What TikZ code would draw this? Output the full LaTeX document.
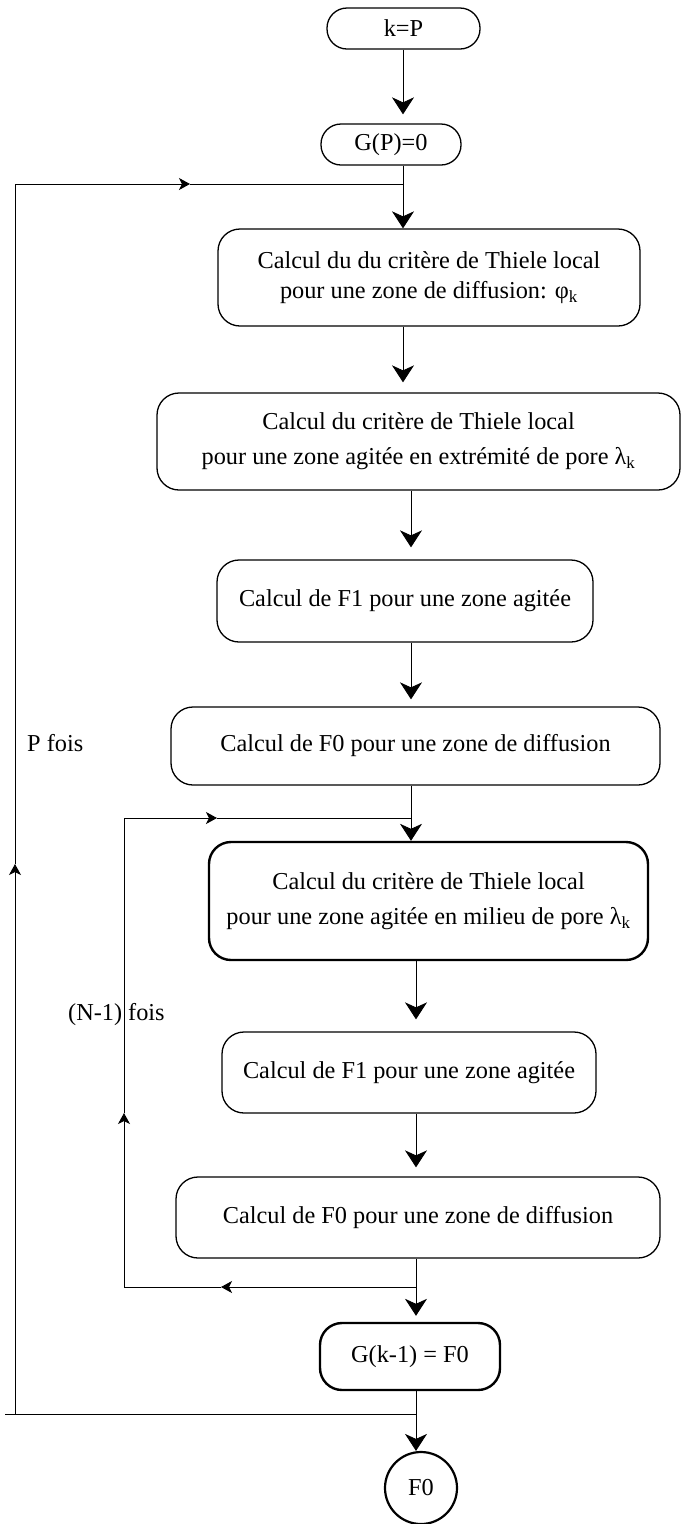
\documentclass[tikz,border=0pt]{standalone}
\usepackage{fontspec}
\setmainfont{Liberation Serif}
\usetikzlibrary{arrows.meta}
\begin{document}
\begin{tikzpicture}[x=1pt,y=-1pt,
  txt/.style={font=\fontsize{24.3}{30}\selectfont},
  txtw/.style={font=\fontsize{24.3}{35}\selectfont},
  box/.style={draw, line width=1.3pt, rounded corners=22pt, inner sep=0pt, align=center},
  boldbox/.style={box, line width=2.4pt},
  link/.style={line width=0.9pt, -{Stealth[length=17pt,width=22pt,inset=5pt]}},
  plain/.style={line width=0.9pt},
  mid/.style={line width=0.9pt, -{Stealth[length=11pt,width=12pt,inset=3pt]}}
]
\useasboundingbox (0,0) rectangle (682,1524);

% axis coordinates
\coordinate (a1) at (403,0);
\coordinate (a2) at (411,0);
\coordinate (a3) at (416,0);

% nodes
\node[box, txt, minimum width=153pt, minimum height=41pt, rounded corners=20pt] (kp) at (403.5,28.5) {k=P};
\node[box, txt, minimum width=140pt, minimum height=41pt, rounded corners=20pt] (gp) at (391,144.5) {G(P)=0};
\node[box, txt, minimum width=422pt, minimum height=97pt] (b1) at (429,277.5)
  {Calcul du du critère de Thiele local\\pour une zone de diffusion: φ\textsubscript{k}};
\node[box, txtw, minimum width=523pt, minimum height=97pt] (b2) at (418.5,441.5)
  {Calcul du critère de Thiele local\\pour une zone agitée en extrémité de pore λ\textsubscript{k}};
\node[box, txt, minimum width=376pt, minimum height=82pt] (b3) at (405,601)
  {Calcul de F1 pour une zone agitée};
\node[box, txt, minimum width=489pt, minimum height=78pt] (b4) at (415.5,746)
  {Calcul de F0 pour une zone de diffusion};
\node[boldbox, txtw, minimum width=439pt, minimum height=118pt] (b5) at (428.5,901)
  {Calcul du critère de Thiele local\\pour une zone agitée en milieu de pore λ\textsubscript{k}};
\node[box, txt, minimum width=374pt, minimum height=81pt] (b6) at (409,1072.5)
  {Calcul de F1 pour une zone agitée};
\node[box, txt, minimum width=484pt, minimum height=81pt] (b7) at (418,1217.5)
  {Calcul de F0 pour une zone de diffusion};
\node[boldbox, txt, minimum width=180pt, minimum height=67pt] (g2) at (410,1356.5)
  {G(k-1) = F0};
\node[draw, circle, line width=2.2pt, inner sep=0pt, minimum size=72pt, txt] (f0) at (421,1488) {F0};

% main connectors
\draw[link, shorten >=9pt] (kp.south -| a1) -- (gp.north -| a1);
\draw[link] (gp.south -| a1) -- (b1.north -| a1);
\draw[link, shorten >=10pt] (b1.south -| a1) -- (b2.north -| a1);
\draw[link, shorten >=12pt] (b2.south -| a2) -- (b3.north -| a2);
\draw[link, shorten >=7pt] (b3.south -| a2) -- (b4.north -| a2);
\draw[link] (b4.south -| a2) -- (b5.north -| a2);
\draw[link, shorten >=12pt] (b5.south -| a3) -- (b6.north -| a3);
\draw[link, shorten >=9pt] (b6.south -| a3) -- (b7.north -| a3);
\draw[link, shorten >=6pt] (b7.south -| a3) -- (g2.north -| a3);
\draw[link] (g2.south -| a3) -- (f0.north -| a3);

% outer loop (P fois)
\coordinate (jb) at (416,1414);
\coordinate (lb) at (5,1414);
\coordinate (lv) at (15,1414);
\coordinate (lm) at (15,864);
\coordinate (lt) at (15,184);
\coordinate (tm) at (190,184);
\coordinate (jt) at (403,184);
\draw[plain] (jb) -- (lb);
\draw[mid] (lv) -- (lm);
\draw[plain] (lm) -- (lt);
\draw[mid] (lt) -- (tm);
\draw[plain] (tm) -- (jt);

% inner loop ((N-1) fois)
\coordinate (ijb) at (416,1287);
\coordinate (ilm) at (221,1287);
\coordinate (ilb) at (124,1287);
\coordinate (ivm) at (124,1113);
\coordinate (ilt) at (124,818);
\coordinate (itm) at (217,818);
\coordinate (ijt) at (411,818);
\draw[mid] (ijb) -- (ilm);
\draw[plain] (ilm) -- (ilb);
\draw[mid] (ilb) -- (ivm);
\draw[plain] (ivm) -- (ilt);
\draw[mid] (ilt) -- (itm);
\draw[plain] (itm) -- (ijt);

% labels
\node[txt, anchor=west, inner sep=0pt] (pf) at (27,743) {P fois};
\node[txt, anchor=west, inner sep=0pt] (nf) at (68,1015) {(N-1) fois};
\end{tikzpicture}
\end{document}
